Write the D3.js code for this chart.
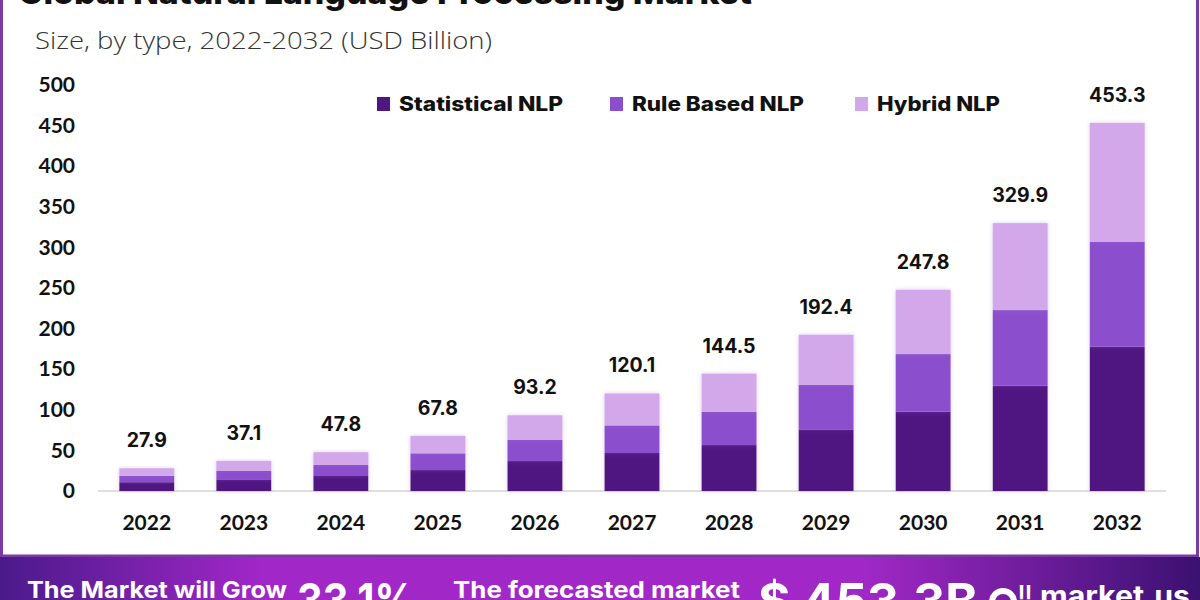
<!DOCTYPE html>
<html>
<head>
<meta charset="utf-8">
<script src="https://cdn.jsdelivr.net/npm/d3@7"></script>
<style>
  html, body { margin: 0; padding: 0; background: #fff; }
  svg { display: block; }
</style>
</head>
<body>
<svg id="chart" width="1200" height="600"></svg>
<script>
const years = ["2022","2023","2024","2025","2026","2027","2028","2029","2030","2031","2032"];
const totals = [27.9, 37.1, 47.8, 67.8, 93.2, 120.1, 144.5, 192.4, 247.8, 329.9, 453.3];
const statistical = [10.9, 14.4, 18.5, 25.8, 36.9, 46.8, 56.6, 75.9, 97.6, 129.6, 177.6];
const ruleBased = [7.7, 10.6, 13.5, 20.6, 25.9, 34.0, 41.0, 54.6, 71.0, 93.2, 129.2];
const hybrid = [9.3, 12.1, 15.8, 21.4, 30.4, 39.3, 46.9, 61.9, 79.2, 107.1, 146.5];
const seriesNames = ["Statistical NLP", "Rule Based NLP", "Hybrid NLP"];
const seriesColors = ["#4f1782", "#8b4fcd", "#d3a8eb"];
const yTicks = [0, 50, 100, 150, 200, 250, 300, 350, 400, 450, 500];

const svg = d3.select("#chart");

// gradient for bottom banner
const defs = svg.append("defs");
const grad = defs.append("linearGradient").attr("id", "banner").attr("x1", "0").attr("x2", "1").attr("y1", "0").attr("y2", "0");
[["0%", "#4a1a8a"], ["22%", "#a227c8"], ["72%", "#a128c6"], ["100%", "#3a1170"]].forEach(([o, c]) =>
  grad.append("stop").attr("offset", o).attr("stop-color", c));
const shadow = defs.append("filter").attr("id", "glow").attr("x", "-20%").attr("y", "-20%").attr("width", "140%").attr("height", "140%");
shadow.append("feDropShadow").attr("dx", 0).attr("dy", 0).attr("stdDeviation", 2).attr("flood-color", "#9b6cc8").attr("flood-opacity", 0.35);

// white frame with purple border
svg.append("rect").attr("x", 1.5).attr("y", -10).attr("width", 1196).attr("height", 566)
  .attr("fill", "#fff").attr("stroke", "#7a3ca4").attr("stroke-width", 3);

// banner
svg.append("rect").attr("x", 0).attr("y", 557).attr("width", 1200).attr("height", 43).attr("fill", "url(#banner)");

// title (cut at top, as in the reference)
svg.append("text").attr("x", 18).attr("y", 4).attr("textLength", 734).attr("lengthAdjust", "spacingAndGlyphs")
  .attr("font-family", "Inter, 'Noto Sans', sans-serif").attr("font-weight", 800).attr("font-size", 32)
  .attr("fill", "#111").text("Global Natural Language Processing Market");

svg.append("text").attr("x", 35).attr("y", 49).attr("textLength", 457).attr("lengthAdjust", "spacingAndGlyphs")
  .attr("font-family", "'Open Sans', 'Noto Sans', sans-serif").attr("font-weight", 300).attr("font-size", 23)
  .attr("fill", "#333").text("Size, by type, 2022-2032 (USD Billion)");

const x = d3.scaleBand().domain(years).range([98, 1166]).paddingInner(0.435).paddingOuter(0.22);
const y = d3.scaleLinear().domain([0, 500]).range([491, 85]);

// baseline
svg.append("line").attr("x1", 98).attr("x2", 1166).attr("y1", y(0)).attr("y2", y(0))
  .attr("stroke", "#d4d4d4").attr("stroke-width", 1.5);

// y axis labels
const yAxis = d3.axisLeft(y).tickValues(yTicks).tickSize(0).tickPadding(0).tickFormat(d3.format("d"));
const yg = svg.append("g").attr("transform", "translate(75,0)").call(yAxis);
yg.select(".domain").remove();
yg.selectAll("text").attr("font-family", "Lato, 'Open Sans', sans-serif").attr("font-weight", 700)
  .attr("font-size", 21).attr("fill", "#111");

// x axis labels
const xAxis = d3.axisBottom(x).tickSize(0).tickPadding(0);
const xg = svg.append("g").attr("transform", "translate(0,515)").call(xAxis);
xg.select(".domain").remove();
xg.selectAll("text").attr("font-family", "Lato, 'Open Sans', sans-serif").attr("font-weight", 700)
  .attr("font-size", 21).attr("fill", "#111");

// stacked data
const rows = years.map((yr, i) => ({ year: yr, s0: statistical[i], s1: ruleBased[i], s2: hybrid[i] }));
const stack = d3.stack().keys(["s0", "s1", "s2"])(rows);

const gBars = svg.append("g");
stack.forEach((layer, li) => {
  gBars.selectAll(null).data(layer).join("rect")
    .attr("x", d => x(d.data.year))
    .attr("width", x.bandwidth())
    .attr("y", d => y(d[1]))
    .attr("height", d => y(d[0]) - y(d[1]))
    .attr("fill", seriesColors[li])
    .attr("filter", "url(#glow)");
});

// total labels
svg.append("g").selectAll("text").data(years).join("text")
  .attr("x", d => x(d) + x.bandwidth() / 2)
  .attr("y", (d, i) => y(totals[i]) - 21)
  .attr("text-anchor", "middle")
  .attr("font-family", "Inter, 'Noto Sans', sans-serif").attr("font-weight", 700).attr("font-size", 19.5)
  .attr("fill", "#111")
  .text((d, i) => totals[i].toFixed(1));

// legend
const legendX = [377, 610, 855];
const legendLen = [164, 172, 123];
const lg = svg.append("g");
seriesNames.forEach((n, i) => {
  lg.append("rect").attr("x", legendX[i]).attr("y", 97).attr("width", 13).attr("height", 14).attr("fill", seriesColors[i]);
  lg.append("text").attr("x", legendX[i] + 22).attr("y", 111)
    .attr("font-family", "Inter, 'Noto Sans', sans-serif").attr("font-weight", 800).attr("font-size", 20)
    .attr("textLength", legendLen[i]).attr("lengthAdjust", "spacingAndGlyphs")
    .attr("fill", "#111").text(n);
});

// banner texts (cut at the bottom edge, as in the reference)
const bf = "Inter, 'Noto Sans', sans-serif";
function btext(t, xx, yy, size, len) {
  svg.append("text").attr("x", xx).attr("y", yy).attr("font-family", bf).attr("font-weight", 700)
    .attr("font-size", size).attr("fill", "#fff").attr("textLength", len).attr("lengthAdjust", "spacingAndGlyphs").text(t);
}
btext("The Market will Grow", 27, 598, 23, 260);
btext("33.1%", 297, 617, 46, 118);
btext("The forecasted market", 453, 598, 23, 287);
btext("$ 453.3B", 758, 618, 48, 220);
// logo glyph
svg.append("circle").attr("cx", 1003).attr("cy", 602).attr("r", 11).attr("fill", "none").attr("stroke", "#fff").attr("stroke-width", 6);
btext("!!", 1018, 606, 28, 14);
btext("market.us", 1040, 606, 28, 150);
</script>
</body>
</html>
